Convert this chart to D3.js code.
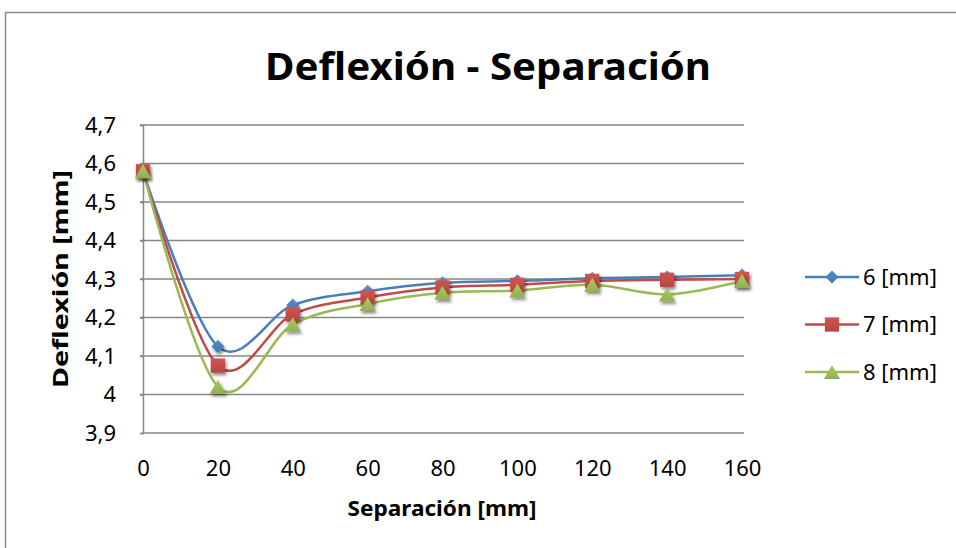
<!DOCTYPE html>
<html>
<head>
<meta charset="utf-8">
<script src="https://cdn.jsdelivr.net/npm/d3@7"></script>
<style>
  html, body { margin: 0; padding: 0; background: #fff; }
  svg { display: block; font-family: "Noto Sans", "Open Sans", sans-serif; }
</style>
</head>
<body>
<svg id="chart" width="956" height="548"></svg>
<script>
// Separation between supports (mm)
const separation = [0, 20, 40, 60, 80, 100, 120, 140, 160];
// Deflection (mm) for each thickness
const def6 = [4.58, 4.125, 4.232, 4.268, 4.29, 4.295, 4.302, 4.305, 4.31];
const def7 = [4.58, 4.075, 4.208, 4.252, 4.278, 4.285, 4.295, 4.298, 4.30];
const def8 = [4.58, 4.02, 4.182, 4.235, 4.264, 4.27, 4.285, 4.26, 4.295];
const seriesNames = ["6 [mm]", "7 [mm]", "8 [mm]"];
const seriesColors = ["#4A7EBB", "#BE4B48", "#98B954"];
const seriesShapes = [d3.symbolDiamond2, d3.symbolSquare, d3.symbolTriangle];
const yTicks = [3.9, 4.0, 4.1, 4.2, 4.3, 4.4, 4.5, 4.6, 4.7];

const series = [def6, def7, def8].map((vals, i) => ({
  name: seriesNames[i], color: seriesColors[i], shape: seriesShapes[i],
  points: separation.map((s, j) => ({ x: s, y: vals[j] }))
}));

const svg = d3.select("#chart");
const plot = { left: 143, right: 742, top: 125, bottom: 433 };

const x = d3.scaleLinear().domain([0, 160]).range([plot.left, plot.right]);
const y = d3.scaleLinear().domain([3.9, 4.7]).range([plot.bottom, plot.top]);
const fmt = v => (v === 4 ? "4" : d3.format(".1f")(v).replace(".", ","));

// soft drop shadow for the markers
const defs = svg.append("defs");
const f = defs.append("filter").attr("id", "shadow")
  .attr("x", "-50%").attr("y", "-50%").attr("width", "200%").attr("height", "200%");
f.append("feDropShadow").attr("dx", 1.5).attr("dy", 2.5)
  .attr("stdDeviation", 1.6).attr("flood-color", "#000").attr("flood-opacity", 0.45);
series.forEach((s, i) => {
  const g = defs.append("linearGradient").attr("id", "grad" + i)
    .attr("x1", 0).attr("y1", 0).attr("x2", 0).attr("y2", 1);
  g.append("stop").attr("offset", 0).attr("stop-color", d3.color(s.color).brighter(0.3));
  g.append("stop").attr("offset", 1).attr("stop-color", d3.color(s.color).darker(0.15));
});

// chart frame (partially visible)
svg.append("path")
  .attr("d", "M5.5,548 V12.5 H956")
  .attr("fill", "none").attr("stroke", "#8c8c8c").attr("stroke-width", 1.5);

// title
svg.append("text")
  .attr("x", 488).attr("y", 80)
  .attr("text-anchor", "middle")
  .attr("font-size", 38).attr("font-weight", "bold")
  .attr("textLength", 446).attr("lengthAdjust", "spacingAndGlyphs")
  .text("Deflexión - Separación");

// horizontal gridlines
svg.append("g").selectAll("line").data(yTicks.slice(1)).join("line")
  .attr("x1", plot.left - 3).attr("x2", plot.right + 2)
  .attr("y1", d => y(d)).attr("y2", d => y(d))
  .attr("stroke", "#868686").attr("stroke-width", 1.5);

// y axis
const yAxis = svg.append("g").attr("transform", `translate(${plot.left},0)`)
  .call(d3.axisLeft(y).tickValues(yTicks).tickFormat(fmt).tickSize(3).tickPadding(24));
yAxis.select(".domain").attr("stroke", "#868686").attr("stroke-width", 1.5);
yAxis.selectAll(".tick line").attr("stroke", "#868686").attr("stroke-width", 1.5);
yAxis.selectAll("text").attr("font-size", 22).attr("font-family", "'Noto Sans', sans-serif")
  .attr("fill", "#000");

// x axis
const xAxis = svg.append("g").attr("transform", `translate(0,${plot.bottom})`)
  .call(d3.axisBottom(x).tickValues(separation).tickFormat(d3.format("d")).tickSize(0).tickPadding(0));
xAxis.select(".domain").attr("stroke", "#868686").attr("stroke-width", 1.5)
  .attr("d", `M${plot.left},0H${plot.right + 2}`);
xAxis.selectAll("text").attr("font-size", 22).attr("font-family", "'Noto Sans', sans-serif")
  .attr("fill", "#000").attr("y", 43).attr("dy", null);

// axis titles
svg.append("text")
  .attr("x", 442).attr("y", 516).attr("text-anchor", "middle")
  .attr("font-size", 21).attr("font-weight", "bold")
  .attr("textLength", 189).attr("lengthAdjust", "spacingAndGlyphs")
  .text("Separación [mm]");
svg.append("text")
  .attr("transform", "translate(68,279) rotate(-90)").attr("text-anchor", "middle")
  .attr("font-size", 21).attr("font-weight", "bold")
  .attr("textLength", 218).attr("lengthAdjust", "spacingAndGlyphs")
  .text("Deflexión [mm]");

// smoothed lines
const line = d3.line().x(d => x(d.x)).y(d => y(d.y)).curve(d3.curveCardinal.tension(0));
const gs = svg.append("g").selectAll("g").data(series).join("g");
gs.append("path")
  .attr("d", d => line(d.points))
  .attr("fill", "none").attr("stroke", d => d.color).attr("stroke-width", 2.5);

// markers
const symSize = [110, 205, 115];
const symShift = [0, 0, 2.3];
series.forEach((s, i) => {
  svg.append("g").attr("filter", "url(#shadow)")
    .selectAll("path").data(s.points).join("path")
    .attr("transform", d => `translate(${x(d.x)},${y(d.y) + symShift[i]})`)
    .attr("d", d3.symbol(s.shape, symSize[i]))
    .attr("fill", `url(#grad${i})`);
});

// legend
const legend = svg.append("g").selectAll("g").data(series).join("g")
  .attr("transform", (d, i) => `translate(805,${277 + i * 47.5})`);
legend.append("line").attr("x1", 0).attr("x2", 54).attr("y1", 0).attr("y2", 0)
  .attr("stroke", d => d.color).attr("stroke-width", 2.5);
legend.append("path")
  .attr("transform", (d, i) => `translate(27,${symShift[i]})`)
  .attr("d", (d, i) => d3.symbol(d.shape, symSize[i])())
  .attr("fill", (d, i) => `url(#grad${i})`);
legend.append("text")
  .attr("x", 58).attr("y", 0).attr("dy", "0.36em")
  .attr("font-size", 22)
  .text(d => d.name);
</script>
</body>
</html>
